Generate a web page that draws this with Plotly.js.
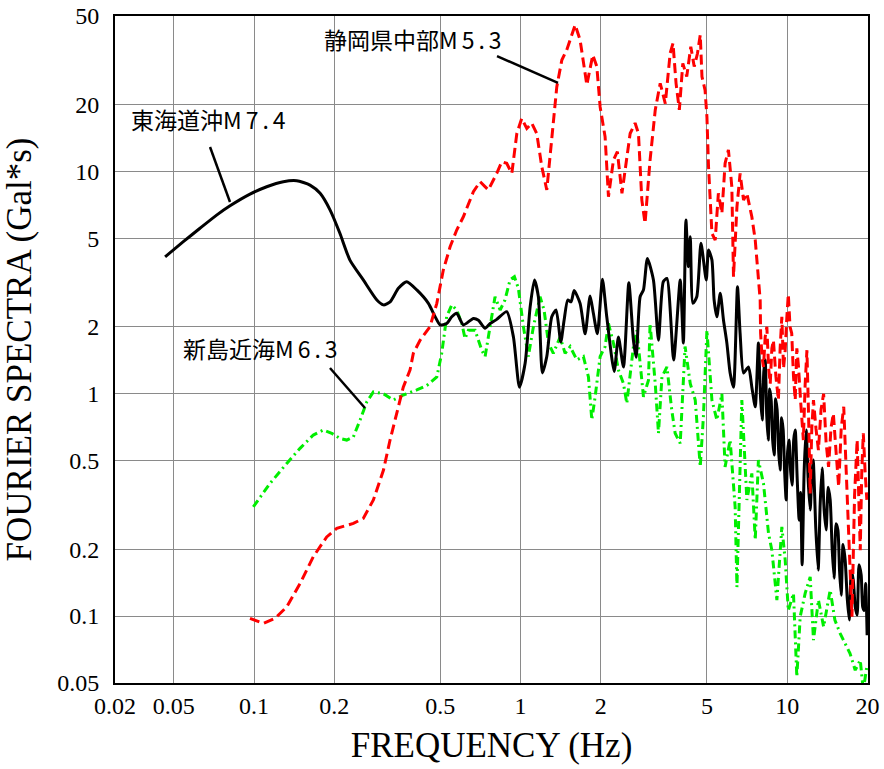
<!DOCTYPE html>
<html>
<head>
<meta charset="utf-8">
<script src="https://cdn.plot.ly/plotly-3.0.1.min.js"></script>
<style>html,body{margin:0;padding:0;background:#fff;}#chart{width:884px;height:769px;}</style>
</head>
<body>
<div id="chart"></div>
<script>
// 東海道沖M7.4 (black, solid)
const blackFreq = [0.0464,0.0543,0.0627,0.0724,0.0813,0.0966,0.1116,0.1288,0.1446,0.1622,0.177,0.193,0.210,0.229,0.257,0.289,0.306,0.324,0.348,0.374,0.408,0.451,0.478,0.499,0.528,0.552,0.576,0.610,0.665,0.695,0.736,0.769,0.814,0.887,0.940,0.990,1.04,1.086,1.127,1.166,1.207,1.254,1.309,1.359,1.415,1.456,1.503,1.547,1.588,1.672,1.746,1.823,1.875,1.941,2.028,2.105,2.244,2.328,2.432,2.547,2.65,2.713,2.808,2.89,2.99,3.15,3.29,3.43,3.54,3.75,3.97,4.08,4.17,4.26,4.33,4.43,4.58,4.75,4.97,5.07,5.22,5.32,5.45,5.61,5.77,5.94,6.11,6.29,6.51,6.66,6.86,7.16,7.37,7.59,7.80,7.95,8.06,8.17,8.27,8.38,8.49,8.60,8.71,8.82,8.94,9.05,9.17,9.29,9.41,9.53,9.66,9.78,9.91,10.04,10.17,10.30,10.44,10.58,10.72,10.9,11.09,11.23,11.38,11.58,11.78,12.0,12.2,12.36,12.52,12.8,13.07,13.3,13.53,13.76,14.0,14.25,14.5,14.75,15.0,15.25,15.5,15.72,15.95,16.2,16.5,16.8,17.1,17.4,17.7,18.0,18.3,18.6,18.95,19.2,19.45,19.7,19.95];
const blackAmp = [4.13,4.83,5.55,6.36,7.0,7.9,8.53,8.99,9.08,8.68,7.97,6.70,5.27,3.99,3.25,2.64,2.51,2.59,2.98,3.19,2.93,2.55,2.22,2.04,2.07,2.22,2.30,2.04,2.18,2.14,1.97,2.07,2.16,2.34,1.80,1.07,1.37,2.46,3.25,2.73,1.24,1.47,2.22,2.38,1.71,2.14,2.64,2.59,2.91,2.55,1.86,2.75,2.30,1.86,3.27,2.22,1.26,1.80,1.32,3.16,1.74,1.46,2.73,2.93,4.06,3.25,1.74,3.19,3.30,1.42,3.25,1.69,6.04,3.73,5.08,2.55,2.73,4.75,3.25,4.43,4.0,2.64,2.22,2.83,2.14,1.69,1.24,1.07,3.03,1.87,1.24,1.32,1.07,0.874,1.69,0.95,0.762,1.25,1.42,0.80,0.619,1.05,0.937,0.62,0.530,0.95,0.845,0.55,0.454,0.78,0.687,0.45,0.333,0.55,0.619,0.45,0.388,0.62,0.687,0.42,0.270,0.36,0.170,0.45,0.687,0.40,0.300,0.42,0.503,0.25,0.161,0.32,0.463,0.30,0.244,0.38,0.333,0.20,0.148,0.26,0.244,0.16,0.124,0.21,0.179,0.12,0.096,0.16,0.145,0.11,0.101,0.17,0.153,0.11,0.106,0.14,0.082];

// 静岡県中部M5.3 (red, dashed)
const redFreq = [0.0966,0.1084,0.120,0.1327,0.1488,0.1669,0.1874,0.2044,0.2359,0.257,0.2804,0.306,0.3238,0.343,0.363,0.385,0.396,0.4196,0.457,0.485,0.513,0.544,0.576,0.610,0.665,0.705,0.757,0.814,0.850,0.887,0.927,0.968,1.010,1.055,1.101,1.150,1.201,1.254,1.309,1.367,1.428,1.490,1.602,1.672,1.772,1.866,1.932,1.988,2.075,2.136,2.23,2.307,2.40,2.576,2.689,2.768,2.85,2.93,3.06,3.20,3.34,3.49,3.64,3.73,3.83,3.94,4.06,4.20,4.35,4.48,4.61,4.72,4.79,4.92,5.0,5.07,5.22,5.37,5.52,5.69,5.85,6.02,6.20,6.29,6.48,6.66,6.86,7.06,7.37,7.59,7.92,7.95,8.05,8.15,8.27,8.39,8.52,8.64,8.76,8.88,9.07,9.27,9.41,9.55,9.69,9.83,9.97,10.1,10.25,10.4,10.56,10.72,10.87,11.03,11.25,11.5,11.68,11.86,12.03,12.2,12.37,12.55,12.82,13.1,13.4,13.7,14.0,14.3,14.6,14.9,15.25,15.6,15.95,16.3,16.65,17.0,17.25,17.5,17.9,18.3,18.55,18.8,19.05,19.3,19.6,19.9];
const redAmp = [0.0977,0.0927,0.0977,0.110,0.140,0.185,0.227,0.248,0.261,0.275,0.333,0.454,0.619,0.816,1.07,1.28,1.52,1.74,2.0,2.55,3.60,4.58,5.45,6.25,8.1,8.99,8.25,9.80,11.06,10.87,9.80,14.8,17.3,15.6,16.5,14.8,10.5,8.25,13.8,24.0,31.7,35.2,45.6,39.0,24.5,33.4,29.6,19.5,14.3,7.69,11.25,12.26,7.97,14.8,16.5,14.8,7.43,5.84,11.25,18.9,24.9,20.2,34.0,37.7,24.9,18.9,30.6,26.7,36.4,29.6,34.0,41.1,26.7,23.2,17.6,10.5,5.27,4.91,7.97,6.48,10.87,12.5,8.53,3.36,6.93,9.80,7.43,7.97,6.25,4.91,2.64,1.87,1.45,1.32,1.8,2.0,1.3,1.11,1.6,1.74,1.2,0.937,1.6,2.22,1.3,1.57,2.2,2.8,2.0,1.87,1.2,0.937,1.6,1.32,0.9,0.619,1.1,1.57,0.8,0.356,0.7,0.937,0.7,0.558,0.85,1.0,0.6,0.469,0.7,0.816,0.55,0.382,0.7,0.874,0.45,0.220,0.14,0.0993,0.35,0.619,0.35,0.198,0.45,0.664,0.45,0.333];

// 新島近海M6.3 (green, dash-dot)
const greenFreq = [0.0994,0.1148,0.1327,0.1488,0.1669,0.182,0.1957,0.210,0.2228,0.2359,0.250,0.265,0.2804,0.306,0.333,0.363,0.408,0.445,0.485,0.506,0.528,0.552,0.576,0.602,0.619,0.637,0.675,0.715,0.736,0.769,0.802,0.838,0.874,0.913,0.948,0.981,1.025,1.069,1.117,1.183,1.225,1.272,1.327,1.407,1.469,1.534,1.625,1.72,1.797,1.85,1.904,1.988,2.075,2.136,2.23,2.328,2.432,2.503,2.576,2.65,2.73,2.808,2.89,3.018,3.06,3.20,3.29,3.39,3.54,3.69,3.80,3.97,4.14,4.33,4.52,4.72,4.85,5.0,5.22,5.45,5.69,5.85,6.11,6.38,6.48,6.76,7.06,7.37,7.59,7.80,8.15,8.51,8.76,9.15,9.55,9.83,10.1,10.56,10.87,11.19,11.68,12.2,12.55,13.1,13.7,14.5,15.1,15.8,16.5,17.2,18.0,18.8,19.3,19.9];
const greenAmp = [0.310,0.395,0.486,0.568,0.652,0.687,0.664,0.630,0.619,0.640,0.762,0.920,1.02,1.0,0.937,0.987,1.04,1.09,1.19,1.52,2.22,2.51,2.38,2.07,1.77,1.93,1.93,1.57,1.47,2.0,2.73,2.38,2.64,3.25,3.36,2.98,2.0,1.47,2.0,2.73,2.38,1.69,1.52,1.80,1.52,1.63,1.42,1.47,1.19,0.762,0.969,1.47,1.63,2.07,1.69,1.28,1.11,0.905,1.19,1.63,1.93,1.37,0.969,1.15,2.07,1.11,0.664,1.19,1.32,0.845,0.664,0.598,1.63,1.11,0.937,0.469,0.788,1.93,0.937,0.762,1.0,0.469,0.619,0.310,0.135,0.937,0.333,0.438,0.220,0.503,0.395,0.236,0.198,0.118,0.252,0.179,0.106,0.1265,0.0533,0.0993,0.1265,0.150,0.078,0.118,0.0895,0.131,0.096,0.0836,0.0754,0.068,0.0571,0.0634,0.0465,0.0592];

const xTickVals = [0.0301,0.05,0.1,0.2,0.5,1,2,5,10,20];
const xTickText = ['0.02','0.05','0.1','0.2','0.5','1','2','5','10','20'];
const yTickVals = [0.05,0.1,0.2,0.5,1,2,5,10,20,50];
const yTickText = ['0.05','0.1','0.2','0.5','1','2','5','10','20','50'];

const labelTexts = ['東海道沖<span style="letter-spacing:4px">M7.4</span>',
                    '静岡県中部<span style="letter-spacing:4px">M5.3</span>',
                    '新島近海<span style="letter-spacing:4px">M6.3</span>'];

const traces = [
  {x: greenFreq, y: greenAmp, type: 'scatter', mode: 'lines',
   line: {color: '#00ee00', width: 3, dash: '8px,4px,2px,4px', shape: 'linear'}, hoverinfo: 'skip'},
  {x: blackFreq, y: blackAmp, type: 'scatter', mode: 'lines',
   line: {color: '#000000', width: 3, shape: 'spline', smoothing: 0.6}, hoverinfo: 'skip'},
  {x: redFreq, y: redAmp, type: 'scatter', mode: 'lines',
   line: {color: '#ff0000', width: 3, dash: '10px,5px', shape: 'linear'}, hoverinfo: 'skip'}
];

const serif = 'Liberation Serif, Times New Roman, serif';
const cjk = 'Noto Sans CJK JP, Noto Sans, sans-serif';

const layout = {
  width: 884, height: 769,
  margin: {l: 115, r: 16, t: 16, b: 86},
  paper_bgcolor: '#ffffff', plot_bgcolor: '#ffffff',
  showlegend: false,
  xaxis: {
    type: 'log', range: [Math.log10(0.0301), Math.log10(20.1)],
    tickmode: 'array', tickvals: xTickVals, ticktext: xTickText,
    ticks: '', ticklabelstandoff: 0,
    tickfont: {family: serif, size: 24, color: '#000'},
    showgrid: true, gridcolor: '#8a8a8a', gridwidth: 1,
    showline: true, linecolor: '#000', linewidth: 2, mirror: true,
    zeroline: false,
    title: {text: 'FREQUENCY (Hz)', font: {family: serif, size: 35, color: '#000'}, standoff: 15}
  },
  yaxis: {
    type: 'log', range: [Math.log10(0.05), Math.log10(50)],
    tickmode: 'array', tickvals: yTickVals, ticktext: yTickText,
    ticks: '', ticklabelstandoff: 9,
    tickfont: {family: serif, size: 24, color: '#000'},
    showgrid: true, gridcolor: '#8a8a8a', gridwidth: 1,
    showline: true, linecolor: '#000', linewidth: 2, mirror: true,
    zeroline: false,
    title: {text: 'FOURIER SPECTRA (Gal*s)', font: {family: serif, size: 35, color: '#000'}, standoff: 16}
  },
  annotations: [
    {xref: 'paper', yref: 'paper', x: 0.1262, y: 0.8456, text: labelTexts[0], showarrow: false,
     font: {family: cjk, size: 23, color: '#000'}, xanchor: 'center', yanchor: 'middle'},
    {xref: 'paper', yref: 'paper', x: 0.3984, y: 0.9655, text: labelTexts[1], showarrow: false,
     font: {family: cjk, size: 23, color: '#000'}, xanchor: 'center', yanchor: 'middle'},
    {xref: 'paper', yref: 'paper', x: 0.1959, y: 0.5022, text: labelTexts[2], showarrow: false,
     font: {family: cjk, size: 23, color: '#000'}, xanchor: 'center', yanchor: 'middle'}
  ],
  shapes: [
    {type: 'line', xref: 'paper', yref: 'paper', x0: 0.1262, y0: 0.8036, x1: 0.1527, y1: 0.7211, line: {color: '#000', width: 2.5}},
    {type: 'line', xref: 'paper', yref: 'paper', x0: 0.5073, y0: 0.9400, x1: 0.5883, y1: 0.8996, line: {color: '#000', width: 2.5}},
    {type: 'line', xref: 'paper', yref: 'paper', x0: 0.2855, y0: 0.4723, x1: 0.3320, y1: 0.4123, line: {color: '#000', width: 2.5}}
  ]
};

Plotly.newPlot('chart', traces, layout, {displayModeBar: false, staticPlot: true});
</script>
</body>
</html>
